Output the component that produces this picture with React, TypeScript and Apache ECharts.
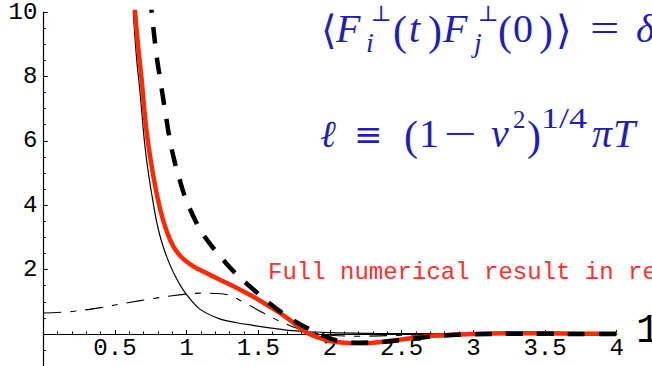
import React, { useEffect, useRef } from "react";
import * as echarts from "echarts";

// Leading-order asymptotic curve (thin solid)
const leadingX = [0.6, 0.628, 0.65, 0.675, 0.705, 0.733, 0.76, 0.79, 0.82, 0.86, 0.92, 0.99, 1.09, 1.23, 1.35, 1.46, 1.58, 1.7, 1.85, 2.0, 2.3, 2.6, 3.0, 3.5, 4.0];
const leadingY = [12.4, 10.0, 8.6, 7.5, 6.0, 5.0, 4.25, 3.5, 2.95, 2.41, 1.8, 1.28, 0.78, 0.47, 0.35, 0.27, 0.19, 0.12, 0.07, 0.04, 0.02, 0.01, 0.0, 0.0, 0.0];

// Full numerical result (thick red)
const fullX = [0.62, 0.64, 0.66, 0.686, 0.72, 0.77, 0.814, 0.86, 0.907, 0.95, 0.99, 1.047, 1.12, 1.234, 1.35, 1.46, 1.58, 1.7, 1.83, 1.9, 2.0, 2.1, 2.2, 2.35, 2.5, 2.62, 2.75, 2.88, 3.0, 3.25, 3.5, 3.75, 4.0];
const fullY = [11.2, 10.0, 9.0, 7.9, 6.3, 4.85, 3.9, 3.2, 2.72, 2.45, 2.28, 2.1, 1.93, 1.68, 1.43, 1.17, 0.85, 0.5, 0.06, -0.08, -0.22, -0.27, -0.29, -0.25, -0.17, -0.1, -0.05, -0.02, 0.0, 0.02, 0.02, 0.01, 0.01];

// Approximate analytic result (thick dashed)
const approxX = [0.745, 0.756, 0.79, 0.814, 0.849, 0.884, 0.919, 0.954, 0.989, 1.047, 1.1, 1.163, 1.234, 1.326, 1.466, 1.58, 1.7, 1.8, 1.91, 2.02, 2.1, 2.21, 2.35, 2.49, 2.6, 2.72, 2.85, 3.0, 3.25, 3.5, 3.75, 4.0];
const approxY = [10.5, 10.0, 8.65, 7.95, 6.95, 6.0, 5.3, 4.75, 4.25, 3.65, 3.2, 2.8, 2.41, 1.95, 1.38, 0.95, 0.55, 0.28, 0.04, -0.17, -0.24, -0.27, -0.25, -0.19, -0.13, -0.07, -0.03, -0.01, 0.01, 0.01, 0.0, 0.0];

// Correction term (thin dash-dot)
const correctionX = [0.0, 0.2, 0.4, 0.6, 0.75, 0.9, 1.0, 1.1, 1.2, 1.3, 1.42, 1.5, 1.6, 1.7, 1.8, 1.9, 2.0, 2.2, 2.5, 3.0, 3.5, 4.0];
const correctionY = [0.65, 0.7, 0.82, 0.98, 1.09, 1.19, 1.24, 1.27, 1.26, 1.2, 0.93, 0.74, 0.5, 0.3, 0.13, 0.02, -0.04, -0.07, -0.04, -0.01, 0.0, 0.0];

const yLabelValues = [2, 4, 6, 8, 10];
const noteText = "Full numerical result in re";

const pairs = (xs: number[], ys: number[]) => xs.map((x, i) => [x, ys[i]]);

const BLUE = "#1f1fb0";
const SERIF = "'Liberation Serif', 'DejaVu Serif', serif";
const SYM = "'DejaVu Serif', 'DejaVu Sans', serif";

type Glyph = { t: string; x: number; base: number; size: number; italic?: boolean; font?: string; sx?: number };

// Typeset pieces of the two formulas, positioned by baseline.
const formula: Glyph[] = [
  { t: "\u27e8", x: 321, base: 44, size: 40, font: SYM },
  { t: "F", x: 336, base: 42, size: 40, italic: true },
  { t: "\u22a5", x: 371, base: 21, size: 22, font: SYM },
  { t: "i", x: 366, base: 52, size: 28, italic: true },
  { t: "(", x: 393, base: 45, size: 42 },
  { t: "t", x: 409, base: 42, size: 40, italic: true },
  { t: ")", x: 428, base: 45, size: 42 },
  { t: "F", x: 443, base: 42, size: 40, italic: true },
  { t: "\u22a5", x: 478, base: 21, size: 22, font: SYM },
  { t: "j", x: 474, base: 52, size: 28, italic: true },
  { t: "(", x: 498, base: 45, size: 42 },
  { t: "0", x: 513, base: 42, size: 40 },
  { t: ")", x: 539, base: 45, size: 42 },
  { t: "\u27e9", x: 556, base: 44, size: 40, font: SYM },
  { t: "=", x: 590, base: 42, size: 40, sx: 1.3 },
  { t: "\u03b4", x: 636, base: 42, size: 40, italic: true },

  { t: "\u2113", x: 320, base: 147, size: 38, italic: true, font: SERIF },
  { t: "\u2261", x: 354, base: 146, size: 34, font: SYM },
  { t: "(", x: 404, base: 150, size: 42 },
  { t: "1", x: 419, base: 147, size: 40 },
  { t: "\u2212", x: 444, base: 147, size: 40, sx: 1.45 },
  { t: "v", x: 491, base: 147, size: 40, italic: true },
  { t: "2", x: 513, base: 128, size: 25 },
  { t: ")", x: 527, base: 150, size: 42 },
  { t: "1/4", x: 541, base: 128, size: 30, sx: 1.2 },
  { t: "\u03c0", x: 592, base: 147, size: 40, italic: true },
  { t: "T", x: 613, base: 147, size: 40, italic: true },
];

export default function App() {
  const ref = useRef<HTMLDivElement>(null);

  useEffect(() => {
    if (!ref.current) return;
    const chart = echarts.init(ref.current, undefined, { renderer: "svg" });

    const mono = "'Liberation Mono', 'Courier New', monospace";

    const formulaEls = formula.map((g) => ({
      type: "text",
      x: g.x,
      y: g.base - 0.34 * g.size,
      scaleX: g.sx || 1,
      silent: true,
      style: {
        text: g.t,
        fill: BLUE,
        font: `${g.italic ? "italic " : ""}${g.size}px ${g.font || SERIF}`,
        textAlign: "left",
        verticalAlign: "middle",
      },
    }));

    chart.setOption({
      animation: false,
      backgroundColor: "#ffffff",
      grid: {
        left: 43.3,
        right: 35.3,
        top: 12,
        height: 354.2,
        containLabel: false,
        outerBoundsMode: "none",
      },
      xAxis: {
        type: "value",
        min: 0,
        max: 4,
        interval: 0.5,
        axisLine: { onZero: true, lineStyle: { color: "#000", width: 1.2 } },
        axisTick: { show: true, inside: true, length: 4, lineStyle: { color: "#000", width: 1 } },
        minorTick: { show: true, splitNumber: 5, length: 2.5, lineStyle: { color: "#000", width: 1 } },
        splitLine: { show: false },
        axisLabel: {
          // labels sit just under the zero line rather than the grid's lower edge
          margin: -30,
          color: "#000",
          fontFamily: mono,
          fontSize: 24,
          formatter: (v: number) => (v === 0 ? "" : String(v)),
        },
      },
      yAxis: [
        {
          type: "value",
          min: -1,
          max: 10,
          interval: 0.5,
          axisLine: { onZero: false, lineStyle: { color: "#000", width: 1.2 } },
          axisTick: { show: true, inside: true, length: 2.5, lineStyle: { color: "#000", width: 1 } },
          splitLine: { show: false },
          axisLabel: { show: false },
        },
        {
          type: "value",
          min: -1,
          max: 10,
          interval: 0.5,
          position: "left",
          axisLine: { show: false, onZero: false },
          axisTick: { show: true, inside: true, length: 4.5, customValues: yLabelValues, lineStyle: { color: "#000", width: 1 } },
          splitLine: { show: false },
          axisLabel: {
            customValues: yLabelValues,
            margin: 6,
            color: "#000",
            fontFamily: mono,
            fontSize: 24,
          },
        },
      ],
      series: [
        {
          type: "line",
          data: pairs(correctionX, correctionY),
          showSymbol: false,
          smooth: 0.35,
          lineStyle: { color: "#000", width: 1.1, type: [18, 9, 6, 9] },
          z: 2,
        },
        {
          type: "line",
          data: pairs(leadingX, leadingY),
          showSymbol: false,
          smooth: 0.35,
          lineStyle: { color: "#000", width: 1.2 },
          z: 2,
        },
        {
          type: "line",
          data: pairs(fullX, fullY),
          showSymbol: false,
          smooth: 0.35,
          lineStyle: { color: "#ff2a00", width: 4.5 },
          z: 3,
        },
        {
          type: "line",
          data: pairs(approxX, approxY),
          showSymbol: false,
          smooth: 0.35,
          lineStyle: { color: "#000", width: 4.5, type: [17, 14], cap: "butt" },
          z: 4,
        },
      ],
      graphic: [
        ...formulaEls,
        {
          type: "text",
          x: 268,
          y: 272.6,
          silent: true,
          style: {
            text: noteText,
            fill: "#ff3030",
            font: `24px ${mono}`,
            textAlign: "left",
            verticalAlign: "middle",
          },
        },
        {
          type: "text",
          x: 636,
          y: 331,
          silent: true,
          style: {
            text: "1",
            fill: "#000",
            font: `40px ${mono}`,
            textAlign: "left",
            verticalAlign: "middle",
          },
        },
      ],
    });

    return () => chart.dispose();
  }, []);

  return (
    <div
      ref={ref}
      style={{ position: "fixed", left: 0, top: 0, width: 652, height: 366, background: "#fff" }}
    />
  );
}
